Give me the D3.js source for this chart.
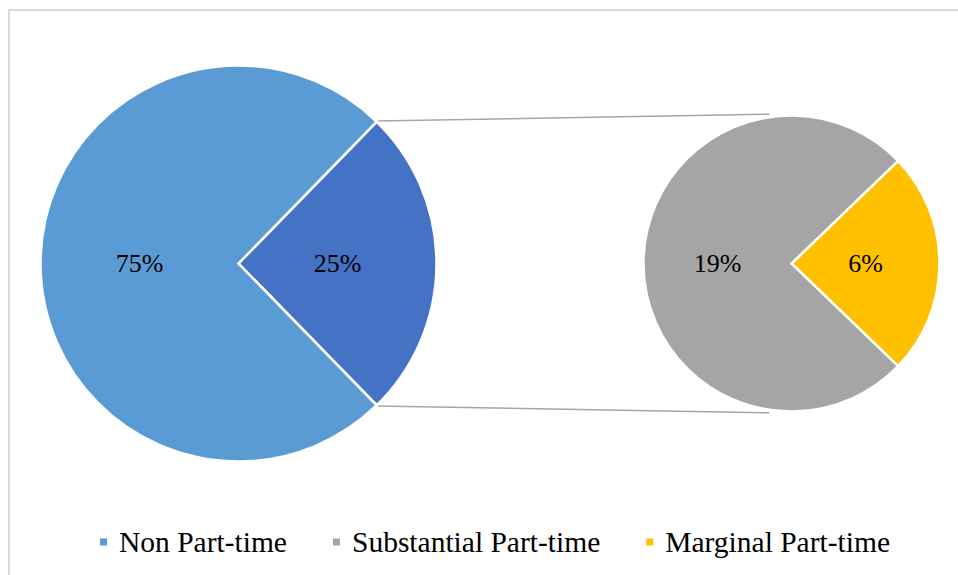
<!DOCTYPE html>
<html>
<head>
<meta charset="utf-8">
<script src="https://cdn.jsdelivr.net/npm/d3@7"></script>
<style>
  html, body { margin: 0; padding: 0; background: #fff; }
  svg { display: block; }
  svg text { font-family: "Liberation Serif", Tinos, "Times New Roman", "DejaVu Serif", serif; }
</style>
</head>
<body>
<svg id="chart" width="958" height="575"></svg>
<script>
// ---- data ----
const mainCategories = ["Part-time", "Non Part-time"];
const mainValues = [25.4, 74.6];
const subCategories = ["Marginal Part-time", "Substantial Part-time"];
const subValues = [6.2, 19.2];
const legendLabels = ["Non Part-time", "Substantial Part-time", "Marginal Part-time"];

// ---- styles ----
const colorMap = {
  "Part-time": "#4472c4",
  "Non Part-time": "#5b9bd5",
  "Substantial Part-time": "#a5a5a5",
  "Marginal Part-time": "#ffc000"
};

const svg = d3.select("#chart");

// chart border (extends past right/bottom edges)
svg.append("rect")
  .attr("x", 9).attr("y", 10)
  .attr("width", 990).attr("height", 600)
  .attr("fill", "#fff")
  .attr("stroke", "#d9d9d9")
  .attr("stroke-width", 2);

const pct = d3.format(".0%");

const c1 = { x: 238.5, y: 263.5 }, r1 = 198;
const c2 = { x: 791.5, y: 263.5 }, r2 = 148;

const mainData = mainCategories.map((k, i) => ({ key: k, value: mainValues[i] }));
const subData = subCategories.map((k, i) => ({ key: k, value: subValues[i] }));

const mainTotal = d3.sum(mainValues);
const partShare = mainValues[0] / mainTotal;
const pie1 = d3.pie().sort(null).value(d => d.value)
  .startAngle(Math.PI / 2 - partShare * Math.PI)
  .endAngle(Math.PI / 2 - partShare * Math.PI + 2 * Math.PI);

const subTotal = d3.sum(subValues);
const margShare = subValues[0] / subTotal;
const pie2 = d3.pie().sort(null).value(d => d.value)
  .startAngle(Math.PI / 2 - margShare * Math.PI)
  .endAngle(Math.PI / 2 - margShare * Math.PI + 2 * Math.PI);

const arc1 = d3.arc().innerRadius(0).outerRadius(r1);
const arc2 = d3.arc().innerRadius(0).outerRadius(r2);

const arcs1 = pie1(mainData);
const arcs2 = pie2(subData);

// connector lines
const partArc = arcs1[0];
function pt(c, r, a) { return [c.x + r * Math.sin(a), c.y - r * Math.cos(a)]; }
const p1a = pt(c1, r1 + 1, partArc.startAngle);
const p1b = pt(c1, r1 + 1, partArc.endAngle);
const aTop = -8.5 * Math.PI / 180;
const p2a = pt(c2, r2 + 3, aTop);
const p2b = pt(c2, r2 + 3, Math.PI - aTop);
const lines = [[p1a, p2a], [p1b, p2b]];
svg.append("g").selectAll("line").data(lines).join("line")
  .attr("x1", d => d[0][0]).attr("y1", d => d[0][1])
  .attr("x2", d => d[1][0]).attr("y2", d => d[1][1])
  .attr("stroke", "#a6a6a6").attr("stroke-width", 1.5);

const g1 = svg.append("g").attr("transform", `translate(${c1.x},${c1.y})`);
g1.selectAll("path").data(arcs1).join("path")
  .attr("d", arc1)
  .attr("fill", d => colorMap[d.data.key])
  .attr("stroke", "#fff").attr("stroke-width", 2.5).attr("stroke-linejoin", "miter");
g1.selectAll("text").data(arcs1).join("text")
  .attr("transform", d => `translate(${arc1.centroid(d)})`)
  .attr("text-anchor", "middle").attr("dy", "0.34em")
  .attr("font-size", 26).attr("fill", "#000")
  .text(d => pct(d.data.value / 100));

const g2 = svg.append("g").attr("transform", `translate(${c2.x},${c2.y})`);
g2.selectAll("path").data(arcs2).join("path")
  .attr("d", arc2)
  .attr("fill", d => colorMap[d.data.key])
  .attr("stroke", "#fff").attr("stroke-width", 2.5).attr("stroke-linejoin", "miter");
g2.selectAll("text").data(arcs2).join("text")
  .attr("transform", d => `translate(${arc2.centroid(d)})`)
  .attr("text-anchor", "middle").attr("dy", "0.34em")
  .attr("font-size", 26).attr("fill", "#000")
  .text(d => pct(d.data.value / 100));

// legend
const legend = svg.append("g");
const items = legend.selectAll("g").data(legendLabels).join("g");
items.append("rect")
  .attr("width", 7).attr("height", 7)
  .attr("y", 538.5)
  .attr("fill", d => colorMap[d]);
items.append("text")
  .attr("x", 19).attr("y", 551.5)
  .attr("font-size", 29.5).attr("fill", "#000")
  .text(d => d);
let widths = [];
items.each(function() {
  widths.push(19 + d3.select(this).select("text").node().getComputedTextLength());
});
const gap = 46;
const totalW = d3.sum(widths) + gap * (widths.length - 1);
const x0 = 495 - totalW / 2;
items.attr("transform", (d, i) => {
  const x = x0 + d3.sum(widths.slice(0, i)) + gap * i;
  return `translate(${x},0)`;
});
</script>
</body>
</html>
